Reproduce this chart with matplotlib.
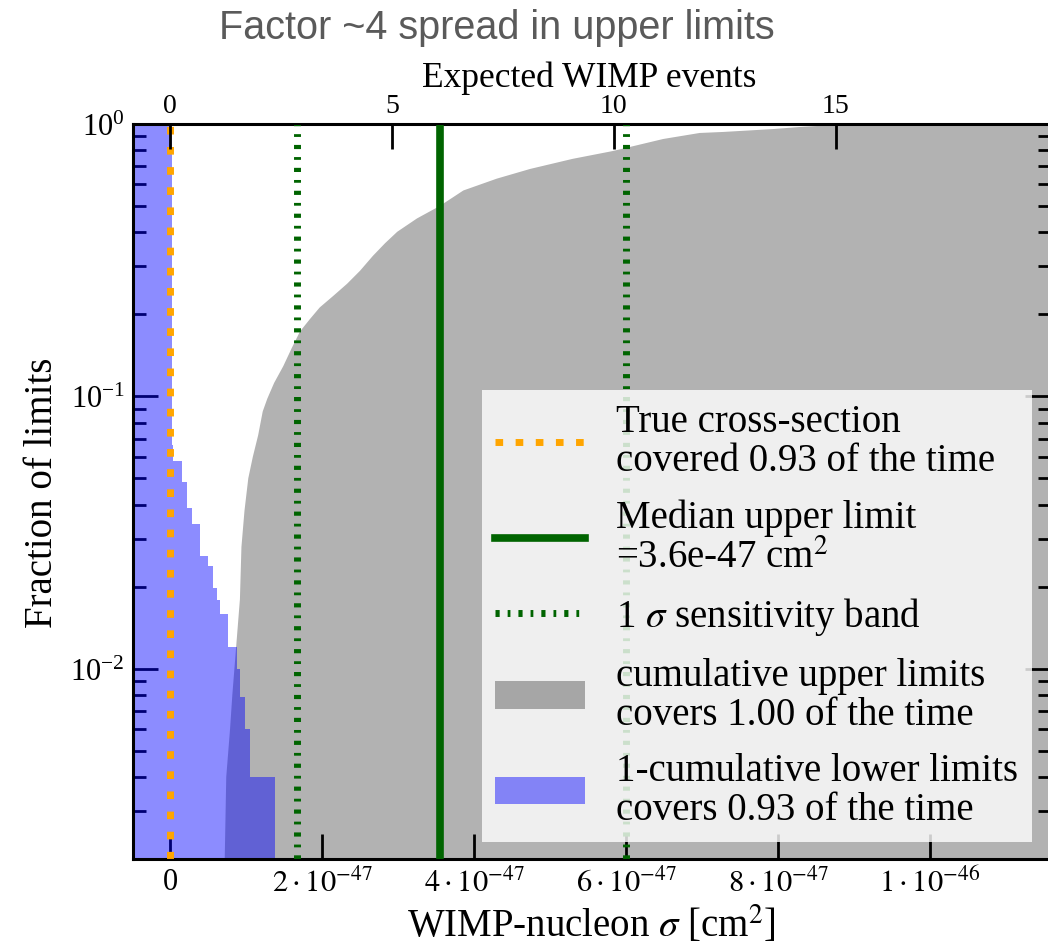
import numpy as np
import matplotlib.pyplot as plt
from matplotlib.lines import Line2D
from matplotlib.patches import Patch

plt.rcParams['font.family'] = 'serif'
plt.rcParams['font.serif'] = ['Liberation Serif', 'DejaVu Serif']
plt.rcParams['mathtext.fontset'] = 'stix'

# cross-sections in units of 1e-47 cm^2
true_sigma = 0.0
median_limit = 3.55
band_low, band_high = 1.667, 6.0
events_per_unit = 1.712  # expected WIMP events per 1e-47 cm^2

# 1 - cumulative of lower limits (step edges / heights)
blue_edges = [-0.6, 0.03, 0.04, 0.158, 0.224, 0.29, 0.395, 0.50, 0.566, 0.618,
              0.658, 0.763, 0.882, 0.921, 0.987, 1.053, 1.382]
blue_frac = [1.0, 0.066, 0.058, 0.0486, 0.039, 0.034, 0.026, 0.0238, 0.0197,
             0.0178, 0.0159, 0.012, 0.010, 0.0079, 0.006, 0.004]

# cumulative of upper limits (outline of the histogram)
gray_sigma = [0.72, 0.74, 0.79, 0.82, 0.87, 0.92, 0.94, 0.98, 1.03, 1.09, 1.16,
              1.22, 1.28, 1.37, 1.49, 1.60, 1.71, 1.84, 1.97, 2.15, 2.33,
              2.50, 2.67, 2.83, 2.99, 3.25, 3.55, 3.86, 4.30, 4.74, 5.30, 5.83,
              6.49, 6.97, 7.28, 7.93, 8.29, 8.70, 9.50, 12.0]
gray_frac = [0.002, 0.004, 0.006, 0.008, 0.012, 0.018, 0.028, 0.038, 0.050,
             0.060, 0.072, 0.088, 0.098, 0.112, 0.129, 0.150, 0.173,
             0.192, 0.212, 0.234, 0.259, 0.289, 0.328, 0.365, 0.402, 0.45, 0.50,
             0.57, 0.63, 0.684, 0.745, 0.796, 0.881, 0.927, 0.935, 0.958,
             0.975, 0.99, 1.0, 1.0]

xticks = [0, 2, 4, 6, 8, 10]
xticklabels = ['0', r'$2\cdot10^{-47}$', r'$4\cdot10^{-47}$', r'$6\cdot10^{-47}$',
               r'$8\cdot10^{-47}$', r'$1\cdot10^{-46}$']
event_ticks = [0, 5, 10, 15]

fig = plt.figure(figsize=(10.48, 9.45), dpi=100)
ax = fig.add_axes([133/1048, 1 - 860/945, (1050 - 133)/1048, (860 - 125)/945])

ax.fill_between(gray_sigma, gray_frac, 1e-4, color='k', alpha=0.3, lw=0, zorder=1)
ax.stairs(blue_frac, blue_edges, fill=True, color='blue', alpha=0.45, baseline=1e-4, lw=0, zorder=2)

ax.axvline(true_sigma, color='orange', lw=5, dashes=(1.1, 1.8), zorder=4)
ax.axvline(median_limit, color='darkgreen', lw=5.5, zorder=3)
for b in (band_low, band_high):
    ax.axvline(b, color='darkgreen', lw=5, dashes=(0.6, 1.15, 0.4, 1.15), zorder=3)

ax.set_yscale('log')
ax.set_ylim(0.002, 1.0)
ax.set_xlim(-0.487, 11.58)
ax.set_xticks(xticks)
ax.set_xticklabels(xticklabels)
ax.tick_params(which='major', direction='in', length=18, width=2, labelsize=22,
               right=True, top=False, pad=6)
ax.tick_params(which='minor', direction='in', length=9, width=2, right=True)
for s in ax.spines.values():
    s.set_linewidth(2.2)

ax.set_xlabel(r'WIMP-nucleon $\sigma$ [cm$^2$]', fontsize=28)
ax.xaxis.set_label_coords(0.5, -0.06)
ax.set_ylabel('Fraction of limits', fontsize=28)
ax.yaxis.set_label_coords(-0.078, 0.5)

ax2 = ax.twiny()
ax2.set_xlim(ax.get_xlim()[0]*events_per_unit, ax.get_xlim()[1]*events_per_unit)
ax2.set_xticks(event_ticks)
ax2.tick_params(direction='in', length=18, width=2, labelsize=20, pad=4)
ax2.set_xlabel('Expected WIMP events', fontsize=25.5)
ax2.xaxis.set_label_coords(0.498, 1.052)

handles = [
    Line2D([], [], color='orange', lw=5, dashes=(1.1, 1.8)),
    Line2D([], [], color='darkgreen', lw=5.5),
    Line2D([], [], color='darkgreen', lw=5, dashes=(0.6, 1.15, 0.4, 1.15)),
    Patch(facecolor='k', alpha=0.3, lw=0),
    Patch(facecolor='blue', alpha=0.45, lw=0),
]
labels = [
    'True cross-section\ncovered 0.93 of the time',
    'Median upper limit\n=3.6e-47 cm$^2$',
    r'1 $\sigma$ sensitivity band',
    'cumulative upper limits\ncovers 1.00 of the time',
    '1-cumulative lower limits\ncovers 0.93 of the time',
]
leg = ax.legend(handles, labels, loc='lower right', bbox_to_anchor=(0.980, 0.023),
                borderaxespad=0, fontsize=28, frameon=True, fancybox=False,
                framealpha=0.8, handlelength=2.3, handletextpad=0.8, labelspacing=0.5,
                borderpad=0.35)
for t in leg.get_texts():
    t.set_linespacing(1.08)
leg.get_frame().set_edgecolor('none')
leg.set_zorder(10)

fig.text(497/1048, 1 - 39/945, 'Factor ~4 spread in upper limits', ha='center', va='baseline',
         fontsize=28.5, color='#5a5a5a', family='Liberation Sans')

fig.savefig('out.png', dpi=100)
